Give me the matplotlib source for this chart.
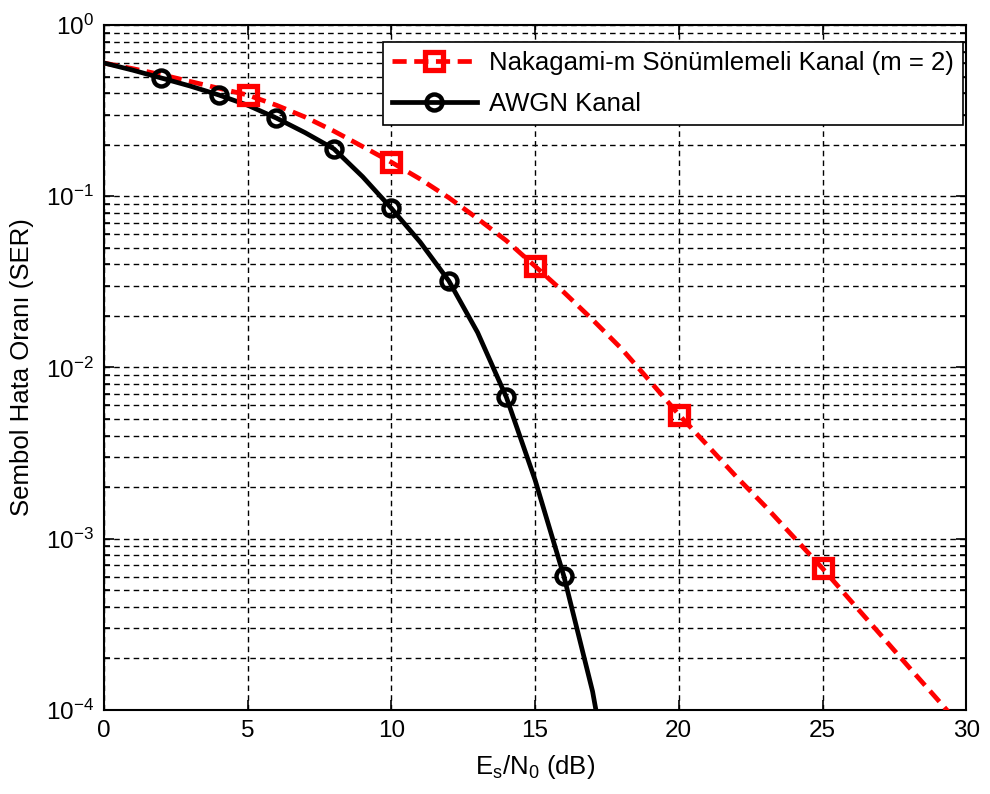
import numpy as np
import matplotlib
matplotlib.use('Agg')
import matplotlib.pyplot as plt
from matplotlib.ticker import LogLocator, NullFormatter, MultipleLocator

plt.rcParams['font.family'] = ['Liberation Sans', 'DejaVu Sans']
plt.rcParams['mathtext.fontset'] = 'custom'
plt.rcParams['mathtext.rm'] = 'Liberation Sans'
plt.rcParams['mathtext.it'] = 'Liberation Sans'
plt.rcParams['mathtext.default'] = 'regular'

# Es/N0 (dB) grid of the curves
snr_naka = [0, 1, 2, 3, 4, 5, 6, 7, 8, 9, 10, 11, 12, 13, 14, 15,
            16, 17, 18, 19, 20, 21, 22, 23, 24, 25, 26, 27, 28, 29, 30]
ser_naka = [0.60, 0.556, 0.513, 0.468, 0.427, 0.39, 0.34, 0.29, 0.24, 0.195, 0.158,
            0.126, 0.098, 0.074, 0.055, 0.039, 0.0275, 0.019, 0.0129, 0.0083, 0.0053,
            0.0035, 0.0023, 0.00155, 0.00102, 0.00067, 0.00043, 0.000277, 0.000178,
            0.000115, 0.000074]
snr_naka_mk = [5, 10, 15, 20, 25]
ser_naka_mk = [0.39, 0.158, 0.039, 0.0053, 0.00067]

snr_awgn = [0, 1, 2, 3, 4, 5, 6, 7, 8, 9, 10, 11, 12, 13, 14, 15, 16, 17, 18]
ser_awgn = [0.60, 0.545, 0.49, 0.44, 0.39, 0.34, 0.286, 0.235, 0.189, 0.13, 0.085,
            0.054, 0.032, 0.016, 0.0067, 0.0022, 0.000605, 0.000128, 0.000015]
snr_awgn_mk = [2, 4, 6, 8, 10, 12, 14, 16]
ser_awgn_mk = [0.49, 0.39, 0.286, 0.189, 0.085, 0.032, 0.0067, 0.000605]

fig = plt.figure(figsize=(9.9, 7.94), dpi=100)
ax = fig.add_axes([0.105, 0.106, 0.871, 0.8625])

ax.semilogy(snr_naka, ser_naka, color='red', linestyle='--', linewidth=3.4,
            dashes=(3, 1.6), zorder=3)
ax.semilogy(snr_naka_mk, ser_naka_mk, linestyle='none', marker='s', markersize=13,
            markerfacecolor='none', markeredgecolor='red', markeredgewidth=3.8, zorder=4)
ax.semilogy(snr_awgn, ser_awgn, color='black', linestyle='-', linewidth=3.4, zorder=3)
ax.semilogy(snr_awgn_mk, ser_awgn_mk, linestyle='none', marker='o', markersize=11.5,
            markerfacecolor='none', markeredgecolor='black', markeredgewidth=3.2, zorder=4)

# legend proxies
h1, = ax.plot([], [], color='red', linestyle='--', linewidth=3.4, dashes=(3, 1.6),
              marker='s', markersize=13, markerfacecolor='none', markeredgewidth=3.8)
h2, = ax.plot([], [], color='black', linestyle='-', linewidth=3.4,
              marker='o', markersize=11.5, markerfacecolor='none', markeredgewidth=3.2)

ax.set_xlim(0, 30)
ax.set_ylim(1e-4, 1)
ax.xaxis.set_major_locator(MultipleLocator(5))
ax.yaxis.set_major_locator(LogLocator(base=10, numticks=10))
ax.yaxis.set_minor_locator(LogLocator(base=10, subs=np.arange(2, 10), numticks=10))
ax.yaxis.set_minor_formatter(NullFormatter())

ax.grid(True, which='major', color='black', linestyle=(0, (4, 3)), linewidth=1.0)
ax.grid(True, which='minor', axis='y', color='black', linestyle=(0, (4, 3)), linewidth=1.0)
ax.set_axisbelow(True)

ax.tick_params(which='both', direction='in', top=True, right=True, labelsize=17.5,
               width=1.2, pad=7)
ax.tick_params(which='major', length=7)
ax.tick_params(which='minor', length=4)
for s in ax.spines.values():
    s.set_linewidth(1.5)

ax.set_xlabel(r'E$_\mathrm{s}$/N$_0$ (dB)', fontsize=18.5, labelpad=8)
ax.set_ylabel('Sembol Hata Oranı (SER)', fontsize=18.5, labelpad=9)

leg = ax.legend([h1, h2], ['Nakagami-m Sönümlemeli Kanal (m = 2)', 'AWGN Kanal'],
                loc='upper right', bbox_to_anchor=(0.9965, 0.975), borderaxespad=0,
                fontsize=18.5, fancybox=False, framealpha=1, edgecolor='black',
                handlelength=3.3, handletextpad=0.5, borderpad=0.35, labelspacing=0.65)
leg.get_frame().set_linewidth(1.2)

fig.savefig('out.png', dpi=100)
